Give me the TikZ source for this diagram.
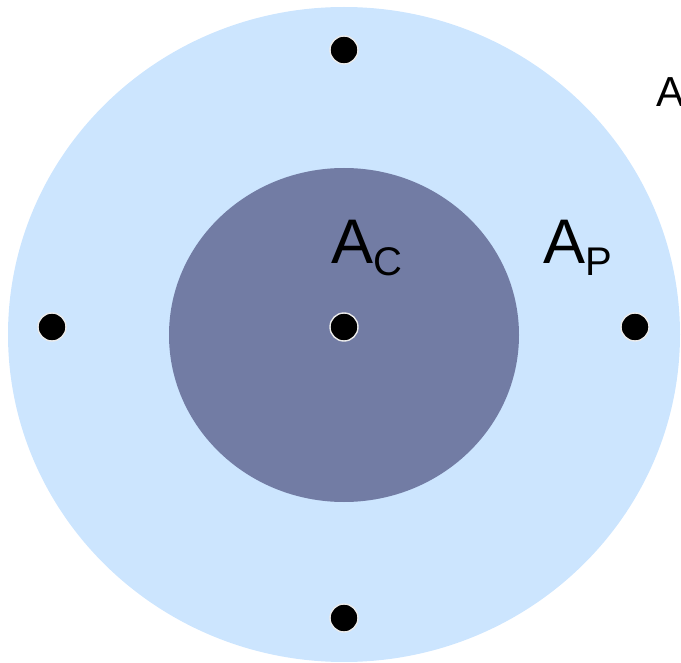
\documentclass[tikz,border=0pt]{standalone}
\usepackage{fontspec}
\setmainfont{Liberation Sans}
\definecolor{outerblue}{RGB}{204,229,254}
\definecolor{innerblue}{RGB}{114,124,164}
\tikzset{
  dotmark/.style={circle, fill=black, draw=white!92!black, line width=1.4pt, minimum size=28pt, inner sep=0pt},
  biglabel/.style={inner sep=0pt, anchor=base west}
}
\begin{document}
\begin{tikzpicture}[x=1pt,y=-1pt]
\useasboundingbox (0,0) rectangle (681,663);
\clip (0,0) rectangle (681,663);
\fill[outerblue] (344,334.5) ellipse [x radius=336, y radius=327.5];
\fill[innerblue] (344,335) ellipse [x radius=175, y radius=167];
\node[dotmark] (top) at (344,50) {};
\node[dotmark] (bottom) at (344,618) {};
\node[dotmark] (left) at (52,327) {};
\node[dotmark] (right) at (635,327) {};
\node[dotmark] (center) at (344,327) {};
\node[biglabel] (ac) at (331,264) {\fontsize{63}{63}\selectfont A\raisebox{-12pt}{\fontsize{40}{40}\selectfont C}};
\node[biglabel] (ap) at (543,264) {\fontsize{63}{63}\selectfont A\raisebox{-12pt}{\fontsize{40}{40}\selectfont P}};
\node[biglabel] (a) at (656,107) {\fontsize{42}{42}\selectfont A};
\end{tikzpicture}
\end{document}
